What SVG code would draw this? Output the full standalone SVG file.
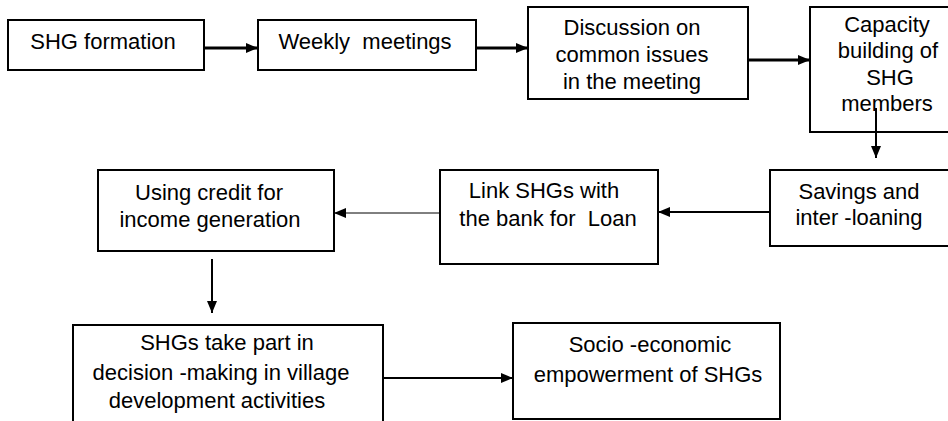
<svg xmlns="http://www.w3.org/2000/svg" width="948" height="421" viewBox="0 0 948 421">
<style>
.box{fill:#fff;stroke:#000;stroke-width:2}
.t{font-family:"Liberation Sans",Arial,sans-serif;font-size:22px;fill:#000;text-anchor:middle}
.c{fill:none;stroke:#000}
</style>
<defs>
<marker id="ah" markerUnits="userSpaceOnUse" viewBox="0 0 12 10" refX="12" refY="5" markerWidth="12" markerHeight="10" orient="auto">
<path d="M0,0 L12,5 L0,10 Z" fill="#000"/>
</marker>
</defs>
<rect width="948" height="421" fill="#fff"/>
<g id="n1"><rect class="box" x="8" y="20" width="196" height="50"/><text class="t" x="103" y="49">SHG formation</text></g>
<g id="n2"><rect class="box" x="258" y="20" width="218" height="50"/><text class="t" x="365" y="49" xml:space="preserve">Weekly  meetings</text></g>
<g id="n3"><rect class="box" x="528" y="7" width="220" height="92"/><text class="t" x="632" y="35">Discussion on</text><text class="t" x="632" y="62">common issues</text><text class="t" x="632" y="89">in the meeting</text></g>
<g id="n4"><rect class="box" x="810" y="7" width="150" height="125"/><text class="t" x="887" y="32">Capacity</text><text class="t" x="888" y="58">building of</text><text class="t" x="890" y="85">SHG</text><text class="t" x="887" y="111">members</text></g>
<g id="n5"><rect class="box" x="770" y="170" width="190" height="76"/><text class="t" x="859" y="199">Savings and</text><text class="t" x="859" y="225">inter -loaning</text></g>
<g id="n6"><rect class="box" x="440" y="170" width="218" height="94"/><text class="t" x="544" y="198">Link SHGs with</text><text class="t" x="548" y="226" xml:space="preserve">the bank for  Loan</text></g>
<g id="n7"><rect class="box" x="98" y="170" width="236" height="81"/><text class="t" x="209" y="200">Using credit for</text><text class="t" x="210" y="227">income generation</text></g>
<g id="n8"><rect class="box" x="73" y="325" width="310" height="110"/><text class="t" x="227" y="350">SHGs take part in</text><text class="t" x="221" y="380">decision -making in village</text><text class="t" x="217" y="408">development activities</text></g>
<g id="n9"><rect class="box" x="513" y="323" width="267" height="96"/><text class="t" x="650" y="352">Socio -economic</text><text class="t" x="648" y="382">empowerment of SHGs</text></g>
<g id="connectors">
<line class="c" x1="204" y1="48" x2="258" y2="48" stroke-width="3" marker-end="url(#ah)"/>
<line class="c" x1="476" y1="48" x2="528" y2="48" stroke-width="3" marker-end="url(#ah)"/>
<line class="c" x1="748" y1="60" x2="810" y2="60" stroke-width="3" marker-end="url(#ah)"/>
<line class="c" x1="876" y1="108" x2="876" y2="158" stroke-width="2" marker-end="url(#ah)"/>
<line class="c" x1="770" y1="212" x2="658" y2="212" stroke-width="2" marker-end="url(#ah)"/>
<line class="c" x1="440" y1="213" x2="334" y2="213" stroke-width="1" marker-end="url(#ah)"/>
<line class="c" x1="212" y1="259" x2="212" y2="313" stroke-width="2" marker-end="url(#ah)"/>
<line class="c" x1="383" y1="378" x2="513" y2="378" stroke-width="2" marker-end="url(#ah)"/>
</g>
</svg>
